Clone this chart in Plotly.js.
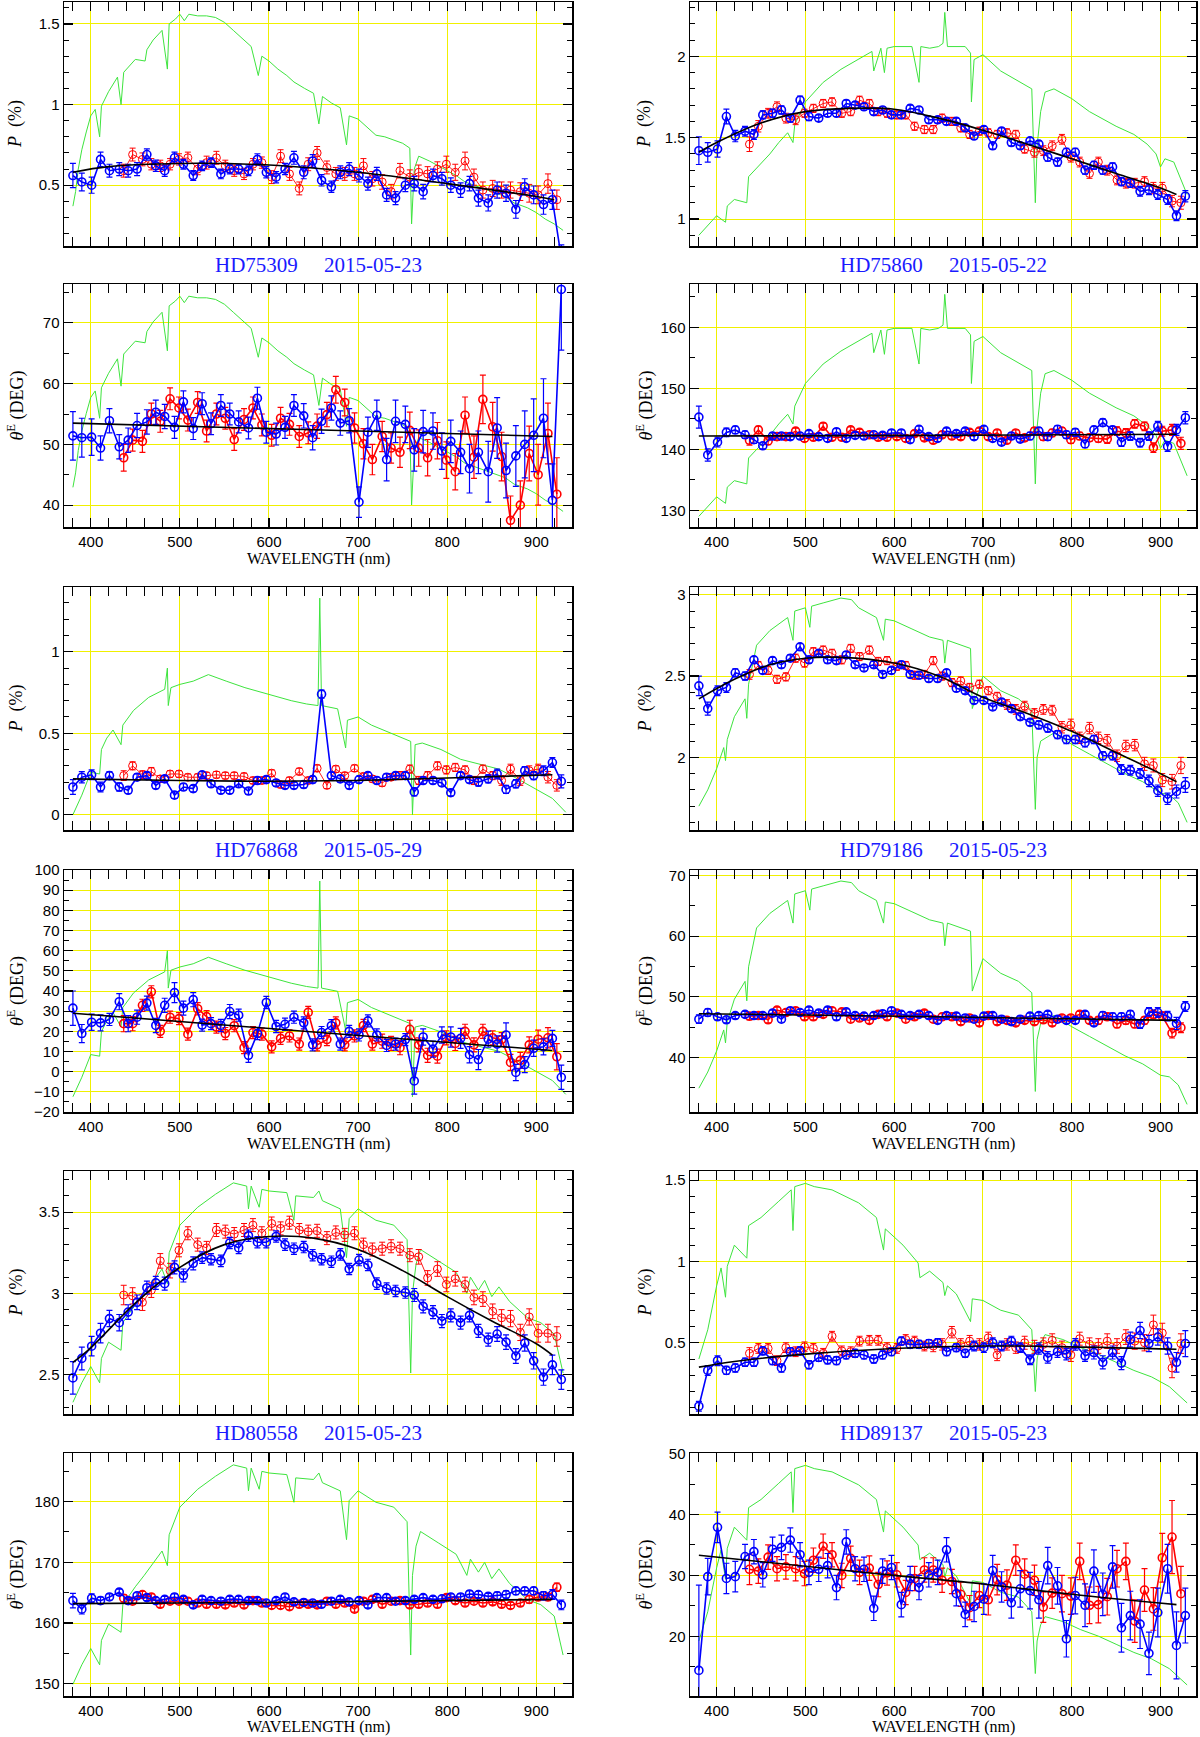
<!DOCTYPE html>
<html>
<head>
<meta charset="utf-8">
<script src="https://cdn.plot.ly/plotly-3.0.1.min.js"></script>
<style>
  html, body { margin: 0; padding: 0; background: #fff; }
  #chart { width: 1200px; height: 1737px; }
</style>
</head>
<body>
<div id="chart"></div>
<script>
// wavelength bins (nm) of the two data sets
const BLUE_WL = [380, 390, 401, 411, 421, 432, 442, 452, 463, 473,
  483, 494, 504, 515, 525, 535, 546, 556, 566, 577,
  587, 597, 608, 618, 628, 639, 649, 659, 670, 680,
  690, 701, 711, 721, 732, 742, 753, 763, 773, 784,
  794, 804, 815, 825, 835, 846, 856, 866, 877, 887,
  897, 908, 918, 928];
const RED_WL = [437, 447, 458, 468, 478, 489, 499, 509, 520, 530,
  541, 551, 561, 572, 582, 592, 603, 613, 623, 634,
  644, 654, 665, 675, 685, 696, 706, 716, 727, 737,
  747, 758, 768, 778, 789, 799, 809, 820, 830, 840,
  851, 861, 871, 882, 892, 902, 913, 923];

// ---------- HD75309 ----------
const HD75309_SPEC_WL = [380, 383, 386, 390, 395, 398, 400, 405, 410, 412, 420, 430, 434, 437, 445, 450, 461, 463, 470, 475,
  480, 486, 488, 495, 500, 505, 510, 520, 530, 540, 550, 560, 570, 580, 588, 592, 600, 610, 620, 628,
  640, 650, 656, 660, 670, 680, 687, 690, 700, 710, 720, 730, 740, 750, 758, 760, 763, 768, 780, 790,
  800, 810, 820, 835, 850, 865, 875, 890, 900, 910, 920, 930];
const HD75309_SPEC = [0.37, 0.46, 0.60, 0.72, 0.83, 0.89, 0.93, 0.97, 0.80, 0.99, 1.08, 1.17, 1.00, 1.20, 1.25, 1.28, 1.27, 1.34, 1.40, 1.43,
  1.46, 1.22, 1.50, 1.53, 1.56, 1.52, 1.56, 1.55, 1.55, 1.54, 1.51, 1.46, 1.41, 1.36, 1.18, 1.30, 1.27, 1.22, 1.18, 1.14,
  1.10, 1.07, 0.88, 1.05, 1.01, 0.98, 0.75, 0.93, 0.91, 0.86, 0.81, 0.80, 0.78, 0.76, 0.73, 0.26, 0.60, 0.68, 0.65, 0.62,
  0.59, 0.56, 0.52, 0.49, 0.46, 0.43, 0.39, 0.36, 0.33, 0.29, 0.26, 0.22];
const HD75309_P_BLUE = [0.56, 0.52, 0.50, 0.66, 0.59, 0.60, 0.59, 0.60, 0.69, 0.62,
  0.59, 0.67, 0.63, 0.56, 0.62, 0.64, 0.57, 0.60, 0.60, 0.59,
  0.66, 0.58, 0.55, 0.60, 0.67, 0.58, 0.65, 0.53, 0.49, 0.58,
  0.60, 0.56, 0.51, 0.57, 0.44, 0.42, 0.50, 0.51, 0.46, 0.56,
  0.54, 0.50, 0.47, 0.51, 0.42, 0.39, 0.47, 0.45, 0.35, 0.49,
  0.44, 0.38, 0.41, 0.05];
const HD75309_P_BLUE_ERR = [0.075, 0.055, 0.05, 0.045, 0.04, 0.04, 0.04, 0.04, 0.035, 0.035,
  0.035, 0.035, 0.03, 0.03, 0.03, 0.03, 0.03, 0.03, 0.03, 0.03,
  0.035, 0.035, 0.035, 0.035, 0.04, 0.04, 0.04, 0.035, 0.035, 0.04,
  0.04, 0.04, 0.04, 0.04, 0.04, 0.04, 0.04, 0.045, 0.045, 0.04,
  0.04, 0.045, 0.045, 0.045, 0.05, 0.05, 0.05, 0.05, 0.055, 0.05,
  0.055, 0.06, 0.06, 0.08];
const HD75309_P_RED = [0.59, 0.69, 0.66, 0.63, 0.62, 0.63, 0.66, 0.67, 0.60, 0.64,
  0.67, 0.62, 0.59, 0.57, 0.63, 0.64, 0.55, 0.68, 0.57, 0.48,
  0.63, 0.70, 0.61, 0.57, 0.57, 0.57, 0.62, 0.54, 0.52, 0.46,
  0.59, 0.55, 0.58, 0.57, 0.60, 0.63, 0.58, 0.65, 0.55, 0.47,
  0.48, 0.47, 0.47, 0.46, 0.45, 0.44, 0.51, 0.41];
const HD75309_P_RED_ERR = [0.04, 0.04, 0.04, 0.035, 0.035, 0.035, 0.035, 0.035, 0.035, 0.04,
  0.04, 0.035, 0.035, 0.035, 0.035, 0.035, 0.04, 0.04, 0.04, 0.04,
  0.04, 0.04, 0.04, 0.04, 0.04, 0.04, 0.045, 0.045, 0.045, 0.045,
  0.045, 0.045, 0.045, 0.045, 0.045, 0.05, 0.05, 0.055, 0.05, 0.05,
  0.05, 0.05, 0.05, 0.055, 0.055, 0.055, 0.06, 0.06];
const HD75309_P_FIT_WL = [380, 420, 500, 600, 700, 800, 900, 920];
const HD75309_P_FIT = [0.58, 0.615, 0.635, 0.625, 0.58, 0.51, 0.43, 0.41];
const HD75309_T_BLUE = [51.4, 51.1, 51.2, 49.4, 53.9, 49.6, 50.7, 53.1, 53.7, 55.3,
  54.6, 52.8, 57.0, 52.6, 56.7, 53.4, 56.4, 55.0, 53.7, 52.7,
  57.6, 52.0, 51.7, 52.8, 56.4, 54.7, 51.1, 53.8, 56.0, 53.5,
  53.9, 40.5, 52.0, 54.8, 47.5, 53.8, 53.3, 49.1, 52.1, 52.2,
  48.9, 50.5, 48.7, 46.0, 48.7, 45.5, 52.7, 45.7, 48.1, 50.0,
  51.5, 54.3, 40.8, 75.5];
const HD75309_T_BLUE_ERR = [4.0, 3.2, 3.0, 2.0, 2.0, 2.0, 2.0, 2.0, 2.0, 2.0,
  2.0, 1.8, 1.8, 1.8, 1.8, 1.8, 1.8, 1.8, 1.8, 1.8,
  1.8, 1.8, 1.8, 1.8, 1.8, 2.0, 2.0, 2.0, 2.0, 2.0,
  2.0, 2.5, 2.5, 2.5, 3.5, 3.5, 3.0, 3.5, 3.5, 3.0,
  3.0, 3.5, 3.5, 4.0, 3.5, 5.0, 5.0, 4.5, 5.0, 5.5,
  6.0, 6.5, 6.0, 10.0];
const HD75309_T_RED = [47.8, 50.7, 50.5, 55.0, 53.8, 57.5, 56.0, 54.0, 56.9, 52.2,
  55.0, 54.3, 50.8, 54.1, 56.0, 53.2, 51.5, 54.3, 53.3, 51.3,
  51.9, 53.0, 54.9, 59.0, 56.9, 52.7, 50.1, 47.5, 51.3, 49.4,
  48.7, 52.3, 49.4, 47.8, 50.6, 47.4, 45.5, 54.8, 47.9, 57.4,
  52.9, 48.0, 37.5, 40.0, 48.5, 45.0, 51.8, 41.8];
const HD75309_T_RED_ERR = [2.2, 1.8, 1.8, 1.8, 1.8, 1.8, 1.8, 1.8, 1.8, 1.8,
  1.8, 1.8, 1.8, 1.8, 1.8, 1.8, 1.8, 1.8, 1.8, 1.8,
  1.8, 2.0, 2.0, 2.2, 2.2, 2.5, 2.5, 2.5, 2.5, 2.5,
  2.5, 3.0, 3.0, 3.0, 3.0, 3.0, 3.0, 3.0, 3.5, 4.0,
  4.0, 4.0, 4.0, 4.0, 4.5, 5.0, 5.0, 6.0];
const HD75309_T_FIT_WL = [380, 650, 918];
const HD75309_T_FIT = [53.5, 52.4, 51.3];

// ---------- HD75860 ----------
const HD75860_SPEC_WL = [380, 390, 400, 410, 412, 420, 434, 436, 450, 460, 470, 480, 486, 488, 500, 510, 520, 540, 560, 575,
  577, 585, 589, 592, 600, 620, 628, 630, 640, 650, 655, 657, 660, 680, 686, 687, 690, 700, 720, 740,
  755, 759, 761, 765, 770, 780, 800, 820, 850, 870, 885, 895, 900, 905, 915, 930];
const HD75860_SPEC = [0.90, 0.96, 1.02, 0.98, 1.08, 1.12, 1.10, 1.26, 1.34, 1.40, 1.47, 1.53, 1.47, 1.58, 1.72, 1.78, 1.84, 1.92, 1.98, 2.03,
  1.91, 2.05, 1.90, 2.05, 2.06, 2.06, 1.84, 2.06, 2.05, 2.06, 2.08, 2.27, 2.06, 2.06, 2.02, 1.72, 1.98, 2.01, 1.91, 1.85,
  1.80, 1.10, 1.45, 1.66, 1.78, 1.80, 1.74, 1.66, 1.57, 1.52, 1.46, 1.40, 1.32, 1.37, 1.35, 1.15];
const HD75860_P_BLUE = [1.42, 1.41, 1.43, 1.63, 1.51, 1.54, 1.52, 1.64, 1.65, 1.67,
  1.62, 1.73, 1.63, 1.62, 1.65, 1.65, 1.71, 1.70, 1.69, 1.66,
  1.67, 1.64, 1.64, 1.68, 1.67, 1.61, 1.61, 1.60, 1.60, 1.56,
  1.51, 1.55, 1.45, 1.54, 1.47, 1.45, 1.48, 1.46, 1.38, 1.35,
  1.41, 1.41, 1.30, 1.33, 1.30, 1.32, 1.23, 1.22, 1.17, 1.18,
  1.15, 1.12, 1.02, 1.14];
const HD75860_P_BLUE_ERR = [0.085, 0.06, 0.05, 0.045, 0.035, 0.03, 0.03, 0.025, 0.025, 0.025,
  0.025, 0.025, 0.025, 0.02, 0.02, 0.02, 0.02, 0.02, 0.02, 0.02,
  0.02, 0.02, 0.02, 0.02, 0.02, 0.02, 0.02, 0.02, 0.02, 0.02,
  0.02, 0.02, 0.02, 0.02, 0.02, 0.02, 0.02, 0.02, 0.025, 0.025,
  0.025, 0.025, 0.025, 0.025, 0.025, 0.025, 0.025, 0.025, 0.03, 0.03,
  0.03, 0.03, 0.03, 0.035];
const HD75860_P_RED = [1.46, 1.57, 1.65, 1.69, 1.62, 1.61, 1.65, 1.68, 1.71, 1.72,
  1.65, 1.66, 1.73, 1.71, 1.66, 1.65, 1.64, 1.64, 1.57, 1.55,
  1.55, 1.62, 1.60, 1.56, 1.52, 1.54, 1.53, 1.52, 1.53, 1.52,
  1.43, 1.41, 1.42, 1.45, 1.49, 1.38, 1.35, 1.28, 1.35, 1.30,
  1.24, 1.22, 1.22, 1.23, 1.19, 1.19, 1.11, 1.10];
const HD75860_P_RED_ERR = [0.045, 0.035, 0.03, 0.03, 0.03, 0.03, 0.025, 0.025, 0.025, 0.025,
  0.025, 0.025, 0.025, 0.025, 0.025, 0.025, 0.025, 0.025, 0.025, 0.025,
  0.025, 0.025, 0.025, 0.025, 0.025, 0.025, 0.025, 0.025, 0.025, 0.025,
  0.025, 0.03, 0.03, 0.03, 0.03, 0.03, 0.03, 0.03, 0.03, 0.03,
  0.03, 0.03, 0.03, 0.03, 0.035, 0.035, 0.035, 0.04];
const HD75860_P_FIT_WL = [380, 400, 450, 500, 550, 600, 650, 700, 750, 800, 850, 900, 918];
const HD75860_P_FIT = [1.41, 1.47, 1.59, 1.66, 1.68, 1.675, 1.62, 1.545, 1.46, 1.37, 1.28, 1.19, 1.15];
const HD75860_T_BLUE = [145.3, 139.1, 141.2, 142.8, 143.2, 142.4, 141.6, 140.6, 142.2, 142.2,
  142.1, 142.2, 142.6, 142.1, 141.8, 142.9, 141.8, 142.3, 142.2, 142.4,
  142.3, 142.7, 142.7, 141.6, 143.3, 142.1, 141.8, 143.0, 142.6, 143.0,
  142.1, 143.3, 141.8, 141.2, 142.2, 141.7, 142.2, 143.0, 142.1, 143.3,
  142.4, 142.8, 140.9, 143.2, 144.4, 143.2, 141.2, 142.2, 141.1, 142.2,
  143.8, 140.5, 143.2, 145.2];
const HD75860_T_BLUE_ERR = [1.8, 1.0, 0.8, 0.7, 0.6, 0.6, 0.6, 0.5, 0.5, 0.5,
  0.5, 0.5, 0.5, 0.5, 0.5, 0.5, 0.5, 0.5, 0.5, 0.5,
  0.5, 0.5, 0.5, 0.5, 0.5, 0.5, 0.5, 0.5, 0.5, 0.5,
  0.5, 0.5, 0.5, 0.5, 0.5, 0.5, 0.6, 0.6, 0.6, 0.6,
  0.6, 0.6, 0.6, 0.6, 0.6, 0.6, 0.7, 0.7, 0.7, 0.7,
  0.8, 0.8, 0.9, 1.0];
const HD75860_T_RED = [141.5, 143.2, 141.4, 142.1, 142.1, 143.0, 141.8, 142.0, 143.8, 142.0,
  142.0, 143.2, 142.8, 142.4, 142.0, 142.0, 142.1, 141.8, 142.6, 141.9,
  141.5, 142.4, 142.2, 142.1, 142.8, 143.0, 142.1, 142.7, 141.5, 142.7,
  141.9, 143.0, 142.1, 142.7, 143.0, 141.6, 142.2, 141.9, 141.8, 141.7,
  143.0, 142.7, 144.2, 143.8, 140.3, 143.0, 143.2, 141.0];
const HD75860_T_RED_ERR = [0.8, 0.6, 0.6, 0.6, 0.5, 0.5, 0.5, 0.5, 0.5, 0.5,
  0.5, 0.5, 0.5, 0.5, 0.5, 0.5, 0.5, 0.5, 0.5, 0.5,
  0.5, 0.5, 0.5, 0.5, 0.5, 0.5, 0.5, 0.5, 0.5, 0.5,
  0.5, 0.6, 0.6, 0.6, 0.6, 0.6, 0.6, 0.6, 0.6, 0.7,
  0.7, 0.7, 0.7, 0.7, 0.8, 0.8, 0.9, 1.0];
const HD75860_T_FIT_WL = [380, 650, 918];
const HD75860_T_FIT = [142.2, 142.3, 142.5];

// ---------- HD76868 ----------
const HD76868_SPEC_WL = [380, 390, 400, 410, 412, 418, 425, 434, 436, 448, 465, 483, 486, 487, 490, 500, 515, 532, 552, 573,
  599, 625, 642, 655, 657, 659, 677, 686, 688, 700, 715, 728, 750, 759, 761, 764, 772, 793, 815, 836,
  858, 879, 901, 918, 933];
const HD76868_SPEC = [0.0, 0.12, 0.26, 0.25, 0.40, 0.47, 0.52, 0.43, 0.55, 0.64, 0.72, 0.77, 0.90, 0.67, 0.78, 0.80, 0.82, 0.86, 0.82, 0.78,
  0.74, 0.70, 0.68, 0.67, 1.33, 0.67, 0.65, 0.41, 0.58, 0.60, 0.55, 0.52, 0.47, 0.45, 0.0, 0.43, 0.44, 0.40, 0.34, 0.31,
  0.28, 0.22, 0.15, 0.10, 0.015];
const HD76868_P_BLUE = [0.17, 0.23, 0.245, 0.17, 0.24, 0.17, 0.15, 0.23, 0.24, 0.18,
  0.22, 0.12, 0.17, 0.16, 0.245, 0.19, 0.15, 0.15, 0.19, 0.145,
  0.21, 0.215, 0.195, 0.18, 0.18, 0.185, 0.215, 0.74, 0.24, 0.22,
  0.18, 0.215, 0.24, 0.21, 0.23, 0.24, 0.24, 0.14, 0.21, 0.21,
  0.195, 0.135, 0.24, 0.215, 0.20, 0.22, 0.25, 0.155, 0.19, 0.27,
  0.24, 0.27, 0.32, 0.205];
const HD76868_P_BLUE_ERR = [0.045, 0.035, 0.03, 0.03, 0.025, 0.025, 0.02, 0.02, 0.02, 0.02,
  0.02, 0.02, 0.02, 0.02, 0.02, 0.02, 0.02, 0.02, 0.02, 0.02,
  0.02, 0.02, 0.02, 0.02, 0.02, 0.02, 0.02, 0.025, 0.02, 0.02,
  0.02, 0.02, 0.02, 0.02, 0.02, 0.02, 0.02, 0.025, 0.02, 0.02,
  0.02, 0.02, 0.02, 0.02, 0.025, 0.025, 0.03, 0.025, 0.025, 0.025,
  0.025, 0.03, 0.03, 0.04];
const HD76868_P_RED = [0.24, 0.30, 0.245, 0.265, 0.22, 0.25, 0.25, 0.23, 0.23, 0.24,
  0.245, 0.24, 0.24, 0.235, 0.21, 0.21, 0.255, 0.185, 0.21, 0.265,
  0.21, 0.285, 0.18, 0.28, 0.24, 0.285, 0.235, 0.22, 0.195, 0.23,
  0.24, 0.28, 0.21, 0.24, 0.30, 0.275, 0.29, 0.275, 0.21, 0.28,
  0.24, 0.21, 0.28, 0.21, 0.27, 0.28, 0.23, 0.18];
const HD76868_P_RED_ERR = [0.03, 0.025, 0.025, 0.025, 0.02, 0.02, 0.02, 0.02, 0.02, 0.02,
  0.02, 0.02, 0.02, 0.02, 0.02, 0.02, 0.02, 0.02, 0.02, 0.02,
  0.02, 0.02, 0.02, 0.02, 0.02, 0.02, 0.02, 0.02, 0.02, 0.02,
  0.025, 0.025, 0.025, 0.025, 0.025, 0.025, 0.025, 0.025, 0.025, 0.025,
  0.025, 0.03, 0.03, 0.03, 0.03, 0.03, 0.035, 0.035];
const HD76868_P_FIT_WL = [380, 500, 600, 700, 800, 918];
const HD76868_P_FIT = [0.22, 0.21, 0.205, 0.21, 0.225, 0.245];
const HD76868_T_BLUE = [31.5, 18.9, 24.5, 24.2, 25.9, 34.7, 23.8, 27.0, 34.0, 22.9,
  32.9, 39.2, 31.5, 35.7, 23.1, 23.8, 22.9, 29.8, 28.0, 8.1,
  18.9, 34.3, 22.4, 23.5, 27.0, 24.2, 13.3, 19.4, 22.8, 13.7,
  20.0, 18.2, 25.2, 18.2, 13.0, 13.7, 15.9, -4.6, 17.2, 11.2,
  18.2, 17.2, 16.5, 8.4, 6.0, 16.1, 13.7, 18.2, -0.4, 3.5,
  11.6, 12.3, 16.5, -2.8];
const HD76868_T_BLUE_ERR = [8.5, 4.5, 4.0, 4.0, 3.0, 4.0, 4.0, 3.5, 3.5, 3.5,
  3.5, 5.0, 3.5, 3.5, 3.0, 3.0, 3.0, 3.5, 3.0, 3.5,
  3.0, 3.0, 3.0, 3.0, 3.0, 3.0, 3.0, 3.0, 3.0, 3.0,
  3.0, 3.0, 3.0, 3.0, 3.0, 3.0, 3.0, 6.5, 4.0, 4.0,
  4.0, 5.0, 5.0, 4.0, 5.0, 4.0, 4.0, 6.0, 4.0, 4.0,
  4.0, 4.0, 4.0, 6.0];
const HD76868_T_RED = [23.8, 23.8, 32.9, 39.6, 20.0, 27.0, 26.3, 18.6, 31.2, 27.3,
  22.1, 18.9, 22.8, 11.9, 19.4, 18.6, 12.3, 16.5, 17.7, 13.7,
  29.4, 13.3, 15.9, 24.2, 13.3, 17.7, 22.9, 13.7, 15.1, 14.0,
  11.9, 21.0, 13.3, 8.1, 7.7, 16.8, 14.0, 20.0, 13.3, 20.0,
  16.8, 15.9, 4.6, 5.6, 13.3, 16.1, 16.8, 7.4];
const HD76868_T_RED_ERR = [4.0, 3.5, 3.0, 3.0, 3.0, 3.0, 3.0, 3.0, 3.0, 3.0,
  3.0, 3.0, 3.0, 3.0, 3.0, 3.0, 3.0, 3.0, 3.0, 3.0,
  3.0, 3.0, 3.0, 3.0, 3.0, 3.0, 3.0, 3.0, 3.5, 3.5,
  3.5, 4.5, 3.5, 3.5, 3.5, 3.5, 3.5, 3.5, 3.5, 3.5,
  3.5, 3.5, 4.0, 4.0, 4.0, 4.5, 5.0, 6.5];
const HD76868_T_FIT_WL = [380, 650, 918];
const HD76868_T_FIT = [29.0, 19.7, 10.5];

// ---------- HD79186 ----------
const HD79186_SPEC_WL = [380, 390, 400, 408, 410, 412, 420, 432, 434, 436, 445, 460, 480, 486, 488, 500, 505, 507, 520, 540,
  552, 560, 580, 588, 590, 600, 620, 640, 655, 657, 660, 680, 686, 688, 700, 720, 740, 755, 759, 761,
  765, 780, 800, 820, 840, 860, 880, 900, 910, 920, 930];
const HD79186_SPEC = [1.70, 1.80, 1.93, 2.06, 1.98, 2.11, 2.25, 2.36, 2.24, 2.45, 2.69, 2.78, 2.86, 2.72, 2.90, 2.92, 2.80, 2.93, 2.95, 2.98,
  2.97, 2.92, 2.86, 2.72, 2.85, 2.84, 2.79, 2.74, 2.72, 2.58, 2.72, 2.68, 2.67, 2.30, 2.50, 2.41, 2.36, 2.29, 1.68, 2.00,
  2.10, 2.15, 2.08, 2.02, 1.96, 1.90, 1.85, 1.78, 1.77, 1.72, 1.60];
const HD79186_P_BLUE = [2.44, 2.30, 2.41, 2.43, 2.52, 2.50, 2.60, 2.535, 2.595, 2.57,
  2.61, 2.68, 2.60, 2.64, 2.60, 2.595, 2.63, 2.57, 2.55, 2.57,
  2.51, 2.535, 2.57, 2.51, 2.505, 2.485, 2.485, 2.52, 2.425, 2.41,
  2.35, 2.35, 2.31, 2.34, 2.30, 2.25, 2.215, 2.20, 2.18, 2.14,
  2.11, 2.11, 2.09, 2.11, 2.01, 2.01, 1.925, 1.92, 1.90, 1.855,
  1.795, 1.745, 1.79, 1.83];
const HD79186_P_BLUE_ERR = [0.06, 0.04, 0.03, 0.03, 0.025, 0.025, 0.02, 0.02, 0.02, 0.02,
  0.02, 0.02, 0.02, 0.02, 0.02, 0.02, 0.02, 0.02, 0.02, 0.02,
  0.02, 0.02, 0.02, 0.02, 0.02, 0.02, 0.02, 0.02, 0.02, 0.02,
  0.02, 0.02, 0.02, 0.02, 0.02, 0.02, 0.02, 0.025, 0.025, 0.025,
  0.025, 0.025, 0.025, 0.025, 0.025, 0.025, 0.03, 0.03, 0.03, 0.035,
  0.035, 0.035, 0.04, 0.045];
const HD79186_P_RED = [2.51, 2.565, 2.535, 2.48, 2.495, 2.61, 2.58, 2.65, 2.66, 2.64,
  2.60, 2.67, 2.62, 2.66, 2.59, 2.595, 2.56, 2.565, 2.505, 2.51,
  2.595, 2.50, 2.46, 2.47, 2.43, 2.45, 2.41, 2.375, 2.325, 2.295,
  2.315, 2.27, 2.295, 2.29, 2.185, 2.20, 2.12, 2.18, 2.12, 2.105,
  2.01, 2.07, 2.075, 1.96, 1.95, 1.86, 1.85, 1.95];
const HD79186_P_RED_ERR = [0.03, 0.025, 0.025, 0.025, 0.025, 0.025, 0.025, 0.025, 0.025, 0.025,
  0.025, 0.025, 0.025, 0.025, 0.025, 0.025, 0.025, 0.025, 0.025, 0.025,
  0.025, 0.025, 0.025, 0.025, 0.025, 0.025, 0.025, 0.025, 0.03, 0.03,
  0.03, 0.03, 0.03, 0.03, 0.035, 0.035, 0.035, 0.035, 0.035, 0.035,
  0.035, 0.035, 0.035, 0.04, 0.04, 0.04, 0.045, 0.05];
const HD79186_P_FIT_WL = [380, 420, 460, 500, 540, 600, 650, 700, 750, 800, 850, 900, 918];
const HD79186_P_FIT = [2.36, 2.48, 2.57, 2.61, 2.615, 2.58, 2.50, 2.37, 2.27, 2.16, 2.03, 1.90, 1.85];
const HD79186_T_BLUE = [46.3, 47.4, 46.7, 46.2, 46.9, 47.1, 46.9, 46.9, 47.3, 46.3,
  47.7, 47.4, 47.8, 47.3, 47.8, 46.7, 47.5, 46.9, 46.8, 46.9,
  47.2, 47.7, 47.1, 46.9, 47.1, 46.9, 46.1, 46.9, 46.8, 46.5,
  46.3, 46.8, 46.9, 46.3, 45.9, 46.3, 46.8, 46.9, 47.1, 46.3,
  46.1, 46.1, 47.1, 45.7, 46.9, 46.7, 46.7, 47.1, 45.5, 47.5,
  47.4, 46.8, 45.6, 48.4];
const HD79186_T_BLUE_ERR = [0.7, 0.6, 0.5, 0.5, 0.5, 0.5, 0.5, 0.5, 0.5, 0.5,
  0.5, 0.5, 0.5, 0.5, 0.5, 0.5, 0.5, 0.5, 0.5, 0.5,
  0.5, 0.5, 0.5, 0.5, 0.5, 0.5, 0.5, 0.5, 0.5, 0.5,
  0.5, 0.5, 0.5, 0.5, 0.5, 0.5, 0.5, 0.5, 0.5, 0.5,
  0.5, 0.5, 0.5, 0.5, 0.6, 0.6, 0.6, 0.6, 0.7, 0.7,
  0.8, 0.8, 1.0, 0.8];
const HD79186_T_RED = [46.8, 46.9, 46.2, 47.8, 47.4, 47.7, 46.7, 46.7, 47.1, 47.7,
  47.5, 46.3, 46.5, 46.1, 47.1, 46.7, 47.3, 46.3, 46.7, 47.3,
  46.3, 46.7, 46.7, 45.9, 46.5, 45.7, 46.9, 45.9, 46.1, 45.7,
  46.1, 45.9, 46.2, 45.7, 46.5, 46.5, 47.1, 46.1, 46.1, 46.7,
  45.5, 46.1, 45.5, 46.1, 47.1, 46.8, 44.0, 44.9];
const HD79186_T_RED_ERR = [0.6, 0.5, 0.5, 0.5, 0.5, 0.5, 0.5, 0.5, 0.5, 0.5,
  0.5, 0.5, 0.5, 0.5, 0.5, 0.5, 0.5, 0.5, 0.5, 0.5,
  0.5, 0.5, 0.5, 0.5, 0.5, 0.5, 0.5, 0.5, 0.5, 0.5,
  0.5, 0.5, 0.5, 0.5, 0.5, 0.5, 0.5, 0.5, 0.6, 0.6,
  0.6, 0.6, 0.6, 0.6, 0.7, 0.7, 0.8, 0.8];
const HD79186_T_FIT_WL = [380, 650, 918];
const HD79186_T_FIT = [47.2, 46.7, 46.1];

// ---------- HD80558 ----------
const HD80558_SPEC_WL = [380, 390, 400, 410, 412, 420, 434, 436, 450, 460, 480, 486, 488, 500, 520, 540, 560, 575, 577, 580,
  589, 592, 600, 620, 628, 630, 650, 656, 660, 680, 687, 690, 700, 720, 740, 755, 759, 761, 765, 770,
  790, 810, 822, 826, 835, 842, 850, 858, 870, 880, 890, 905, 920, 930];
const HD80558_SPEC = [2.33, 2.45, 2.55, 2.45, 2.60, 2.70, 2.65, 2.82, 2.93, 3.00, 3.15, 3.06, 3.25, 3.42, 3.53, 3.61, 3.68, 3.66, 3.52, 3.66,
  3.53, 3.64, 3.63, 3.62, 3.45, 3.60, 3.59, 3.63, 3.57, 3.52, 3.22, 3.46, 3.52, 3.45, 3.42, 3.33, 2.51, 3.00, 3.18, 3.27,
  3.20, 3.13, 3.00, 3.10, 3.02, 3.08, 2.98, 3.04, 2.95, 2.90, 2.85, 2.82, 2.75, 2.51];
const HD80558_P_BLUE = [2.48, 2.60, 2.675, 2.755, 2.845, 2.82, 2.885, 2.945, 3.035, 3.065,
  3.06, 3.16, 3.11, 3.185, 3.22, 3.21, 3.20, 3.31, 3.28, 3.355,
  3.315, 3.315, 3.35, 3.30, 3.275, 3.285, 3.235, 3.21, 3.195, 3.24,
  3.15, 3.205, 3.175, 3.06, 3.03, 3.015, 3.005, 2.99, 2.92, 2.885,
  2.83, 2.865, 2.82, 2.865, 2.77, 2.715, 2.75, 2.70, 2.615, 2.695,
  2.585, 2.485, 2.56, 2.47];
const HD80558_P_BLUE_ERR = [0.1, 0.07, 0.06, 0.06, 0.05, 0.05, 0.045, 0.045, 0.04, 0.04,
  0.04, 0.04, 0.04, 0.04, 0.035, 0.035, 0.035, 0.035, 0.035, 0.035,
  0.035, 0.035, 0.035, 0.035, 0.035, 0.035, 0.035, 0.035, 0.035, 0.035,
  0.035, 0.035, 0.035, 0.035, 0.035, 0.035, 0.035, 0.04, 0.04, 0.04,
  0.04, 0.04, 0.04, 0.04, 0.04, 0.04, 0.045, 0.045, 0.045, 0.05,
  0.05, 0.05, 0.06, 0.06];
const HD80558_P_RED = [2.99, 2.985, 2.945, 3.02, 3.20, 3.14, 3.265, 3.37, 3.30, 3.28,
  3.39, 3.38, 3.365, 3.39, 3.42, 3.37, 3.43, 3.40, 3.435, 3.39,
  3.38, 3.385, 3.34, 3.375, 3.36, 3.37, 3.30, 3.27, 3.275, 3.29,
  3.275, 3.235, 3.225, 3.095, 3.15, 3.055, 3.09, 3.055, 2.975, 2.965,
  2.89, 2.85, 2.845, 2.76, 2.855, 2.755, 2.755, 2.735];
const HD80558_P_RED_ERR = [0.06, 0.05, 0.05, 0.045, 0.045, 0.045, 0.04, 0.04, 0.04, 0.04,
  0.04, 0.04, 0.04, 0.04, 0.04, 0.04, 0.04, 0.04, 0.04, 0.04,
  0.04, 0.04, 0.04, 0.04, 0.04, 0.04, 0.04, 0.04, 0.04, 0.04,
  0.04, 0.04, 0.045, 0.045, 0.045, 0.045, 0.045, 0.045, 0.045, 0.045,
  0.045, 0.05, 0.05, 0.05, 0.05, 0.055, 0.055, 0.06];
const HD80558_P_FIT_WL = [380, 400, 450, 500, 550, 600, 650, 700, 750, 800, 850, 900, 918];
const HD80558_P_FIT = [2.575, 2.665, 2.94, 3.16, 3.30, 3.35, 3.34, 3.27, 3.14, 2.98, 2.83, 2.69, 2.62];
const HD80558_T_BLUE = [163.7, 162.3, 164.1, 163.7, 164.3, 165.1, 163.7, 164.5, 164.2, 163.7,
  163.9, 164.3, 163.9, 163.0, 163.9, 163.7, 163.6, 163.9, 163.9, 163.7,
  163.7, 163.3, 163.7, 164.3, 163.5, 163.4, 163.3, 163.1, 163.6, 163.9,
  163.5, 163.7, 163.0, 164.2, 164.2, 163.6, 163.7, 163.9, 164.2, 163.9,
  164.0, 164.3, 164.3, 164.8, 164.7, 164.4, 164.5, 164.7, 165.3, 165.3,
  165.3, 164.5, 164.7, 163.0];
const HD80558_T_BLUE_ERR = [1.2, 0.8, 0.7, 0.6, 0.5, 0.5, 0.5, 0.5, 0.5, 0.5,
  0.5, 0.5, 0.5, 0.5, 0.5, 0.5, 0.5, 0.5, 0.5, 0.5,
  0.5, 0.5, 0.5, 0.5, 0.5, 0.5, 0.5, 0.5, 0.5, 0.5,
  0.5, 0.5, 0.5, 0.5, 0.5, 0.5, 0.5, 0.5, 0.5, 0.5,
  0.5, 0.5, 0.5, 0.5, 0.5, 0.5, 0.6, 0.6, 0.6, 0.6,
  0.6, 0.7, 0.8, 0.8];
const HD80558_T_RED = [164.1, 163.6, 164.7, 164.3, 163.1, 163.6, 163.6, 163.6, 163.3, 163.1,
  163.1, 163.0, 163.3, 163.0, 163.7, 163.3, 162.9, 162.9, 162.7, 163.1,
  163.1, 163.0, 163.6, 163.1, 163.3, 162.3, 163.6, 163.9, 163.1, 163.6,
  163.7, 163.0, 163.1, 163.3, 163.1, 164.2, 163.7, 163.3, 163.6, 163.3,
  163.5, 163.1, 162.9, 163.3, 163.9, 164.3, 164.3, 165.9];
const HD80558_T_RED_ERR = [0.6, 0.5, 0.5, 0.5, 0.5, 0.5, 0.5, 0.5, 0.5, 0.5,
  0.5, 0.5, 0.5, 0.5, 0.5, 0.5, 0.5, 0.5, 0.5, 0.5,
  0.5, 0.5, 0.5, 0.5, 0.5, 0.5, 0.5, 0.5, 0.5, 0.5,
  0.5, 0.5, 0.5, 0.5, 0.5, 0.5, 0.5, 0.5, 0.5, 0.5,
  0.5, 0.5, 0.5, 0.5, 0.6, 0.6, 0.6, 0.7];
const HD80558_T_FIT_WL = [380, 600, 918];
const HD80558_T_FIT = [163.2, 163.4, 163.9];

// ---------- HD89137 ----------
const HD89137_SPEC_WL = [380, 390, 400, 405, 410, 412, 420, 434, 436, 450, 470, 484, 486, 488, 500, 510, 530, 560, 580, 588,
  590, 610, 627, 629, 640, 655, 657, 660, 670, 686, 688, 700, 720, 740, 755, 759, 761, 765, 770, 790,
  810, 830, 850, 870, 890, 900, 910, 930];
const HD89137_SPEC = [0.40, 0.58, 0.85, 0.96, 0.78, 0.97, 1.10, 1.02, 1.22, 1.27, 1.37, 1.44, 1.19, 1.46, 1.48, 1.46, 1.44, 1.36, 1.27, 1.07,
  1.20, 1.10, 0.99, 0.90, 0.94, 0.87, 0.79, 0.85, 0.80, 0.63, 0.77, 0.76, 0.70, 0.67, 0.58, 0.20, 0.40, 0.50, 0.55, 0.52,
  0.47, 0.43, 0.38, 0.33, 0.29, 0.26, 0.23, 0.13];
const HD89137_P_BLUE = [0.11, 0.33, 0.39, 0.33, 0.345, 0.38, 0.38, 0.45, 0.39, 0.345,
  0.445, 0.45, 0.365, 0.41, 0.395, 0.39, 0.425, 0.435, 0.425, 0.40,
  0.425, 0.445, 0.51, 0.49, 0.49, 0.495, 0.50, 0.445, 0.47, 0.435,
  0.48, 0.47, 0.50, 0.48, 0.51, 0.47, 0.395, 0.465, 0.41, 0.445,
  0.43, 0.49, 0.42, 0.44, 0.38, 0.44, 0.375, 0.52, 0.575, 0.495,
  0.535, 0.48, 0.38, 0.495];
const HD89137_P_BLUE_ERR = [0.03, 0.03, 0.03, 0.025, 0.025, 0.025, 0.025, 0.025, 0.025, 0.025,
  0.025, 0.025, 0.025, 0.025, 0.025, 0.025, 0.025, 0.025, 0.025, 0.025,
  0.025, 0.025, 0.025, 0.025, 0.025, 0.025, 0.025, 0.025, 0.025, 0.025,
  0.03, 0.03, 0.03, 0.03, 0.03, 0.03, 0.03, 0.035, 0.035, 0.035,
  0.035, 0.035, 0.035, 0.04, 0.04, 0.04, 0.04, 0.045, 0.05, 0.05,
  0.05, 0.05, 0.06, 0.08];
const HD89137_P_RED = [0.435, 0.465, 0.465, 0.39, 0.47, 0.445, 0.475, 0.465, 0.435, 0.54,
  0.45, 0.445, 0.51, 0.515, 0.515, 0.47, 0.465, 0.52, 0.51, 0.48,
  0.48, 0.49, 0.565, 0.49, 0.51, 0.49, 0.53, 0.425, 0.49, 0.47,
  0.50, 0.475, 0.49, 0.515, 0.47, 0.425, 0.525, 0.49, 0.48, 0.51,
  0.48, 0.535, 0.51, 0.50, 0.61, 0.56, 0.345, 0.495];
const HD89137_P_RED_ERR = [0.035, 0.03, 0.03, 0.03, 0.03, 0.03, 0.03, 0.03, 0.03, 0.03,
  0.03, 0.03, 0.03, 0.03, 0.03, 0.03, 0.03, 0.03, 0.03, 0.03,
  0.035, 0.035, 0.035, 0.035, 0.035, 0.035, 0.035, 0.035, 0.035, 0.035,
  0.04, 0.04, 0.04, 0.04, 0.04, 0.04, 0.04, 0.04, 0.045, 0.045,
  0.045, 0.045, 0.05, 0.05, 0.06, 0.06, 0.06, 0.06];
const HD89137_P_FIT_WL = [380, 420, 500, 600, 700, 800, 918];
const HD89137_P_FIT = [0.35, 0.385, 0.43, 0.465, 0.48, 0.475, 0.46];
const HD89137_T_BLUE = [14.4, 29.8, 37.9, 29.5, 29.8, 33.1, 33.9, 30.1, 34.3, 34.6,
  35.8, 33.4, 30.5, 31.0, 31.6, 28.0, 35.5, 31.1, 31.0, 24.6,
  30.7, 31.3, 25.2, 29.5, 28.0, 30.1, 30.5, 34.2, 27.0, 23.6,
  24.9, 26.1, 30.8, 28.1, 25.5, 27.8, 27.5, 26.0, 31.6, 28.3,
  19.6, 26.7, 25.1, 30.7, 26.9, 31.4, 21.4, 23.4, 22.0, 17.2,
  23.9, 31.1, 18.5, 23.4];
const HD89137_T_BLUE_ERR = [14.0, 3.0, 2.5, 2.5, 2.5, 2.0, 2.0, 2.0, 2.0, 2.0,
  2.0, 2.0, 2.0, 2.0, 2.0, 2.0, 2.0, 2.0, 2.0, 2.0,
  2.0, 2.0, 2.0, 2.0, 2.0, 2.0, 2.0, 2.0, 2.0, 2.0,
  2.5, 2.5, 2.5, 2.5, 2.5, 3.0, 3.0, 3.0, 3.0, 3.0,
  3.0, 3.0, 3.5, 3.5, 3.5, 3.5, 4.0, 4.0, 4.0, 3.5,
  4.0, 4.0, 5.5, 4.5];
const HD89137_T_RED = [31.0, 30.7, 33.0, 31.1, 31.4, 31.1, 30.3, 32.5, 34.8, 33.4,
  30.0, 32.8, 30.5, 31.2, 28.5, 30.4, 30.1, 27.2, 29.5, 30.9,
  30.9, 29.2, 29.0, 26.9, 24.7, 26.7, 26.0, 29.3, 28.4, 32.5,
  30.2, 29.2, 24.8, 27.1, 27.0, 26.6, 32.3, 25.1, 25.2, 26.5,
  31.1, 32.3, 22.5, 27.6, 24.5, 32.9, 36.3, 27.0];
const HD89137_T_RED_ERR = [2.5, 2.0, 2.0, 2.0, 2.0, 2.0, 2.0, 2.0, 2.0, 2.0,
  2.0, 2.0, 2.0, 2.0, 2.0, 2.0, 2.0, 2.0, 2.0, 2.0,
  2.0, 2.0, 2.0, 2.0, 2.0, 2.0, 2.5, 2.5, 2.5, 2.5,
  2.5, 2.5, 2.5, 2.5, 3.0, 3.0, 3.0, 3.0, 3.0, 3.0,
  3.0, 3.0, 3.5, 3.5, 3.5, 4.0, 6.0, 4.5];
const HD89137_T_FIT_WL = [380, 500, 600, 700, 800, 918];
const HD89137_T_FIT = [33.3, 31.5, 30.0, 28.6, 26.9, 25.2];

// ---------- page geometry (px) ----------
const W = 1200, H = 1737;
const COLS = [{ left: 64, right: 572, ylabX: 16 }, { left: 690, right: 1196, ylabX: 645 }];
const ROWS = [[2, 246], [284, 527], [587, 830], [870, 1112], [1171, 1414], [1453, 1696]];
const TITLE_Y = [265, 850, 1433];
// x-axis label: [y px, anchor] – the last one sits on the page bottom
const XLAB = [[559, 'middle'], [1144, 'middle'], [1736.5, 'bottom']];

const STARS = [
  { name: 'HD75309', date: '2015-05-23', col: 0, block: 0, wl: HD75309_SPEC_WL, spec: HD75309_SPEC,
    P: { range: [0.123, 1.636], dtick: 0.5, minor: 0.1, blue: HD75309_P_BLUE, blueErr: HD75309_P_BLUE_ERR, red: HD75309_P_RED, redErr: HD75309_P_RED_ERR, fitWl: HD75309_P_FIT_WL, fit: HD75309_P_FIT },
    T: { range: [36.4, 76.4], dtick: 10, minor: 5, blue: HD75309_T_BLUE, blueErr: HD75309_T_BLUE_ERR, red: HD75309_T_RED, redErr: HD75309_T_RED_ERR, fitWl: HD75309_T_FIT_WL, fit: HD75309_T_FIT } },
  { name: 'HD75860', date: '2015-05-22', col: 1, block: 0, wl: HD75860_SPEC_WL, spec: HD75860_SPEC,
    P: { range: [0.834, 2.334], dtick: 0.5, minor: 0.1, blue: HD75860_P_BLUE, blueErr: HD75860_P_BLUE_ERR, red: HD75860_P_RED, redErr: HD75860_P_RED_ERR, fitWl: HD75860_P_FIT_WL, fit: HD75860_P_FIT },
    T: { range: [127.3, 167.1], dtick: 10, minor: 5, blue: HD75860_T_BLUE, blueErr: HD75860_T_BLUE_ERR, red: HD75860_T_RED, redErr: HD75860_T_RED_ERR, fitWl: HD75860_T_FIT_WL, fit: HD75860_T_FIT } },
  { name: 'HD76868', date: '2015-05-29', col: 0, block: 1, wl: HD76868_SPEC_WL, spec: HD76868_SPEC,
    P: { range: [-0.094, 1.398], dtick: 0.5, minor: 0.1, blue: HD76868_P_BLUE, blueErr: HD76868_P_BLUE_ERR, red: HD76868_P_RED, redErr: HD76868_P_RED_ERR, fitWl: HD76868_P_FIT_WL, fit: HD76868_P_FIT },
    T: { range: [-20, 100], dtick: 10, minor: 5, blue: HD76868_T_BLUE, blueErr: HD76868_T_BLUE_ERR, red: HD76868_T_RED, redErr: HD76868_T_RED_ERR, fitWl: HD76868_T_FIT_WL, fit: HD76868_T_FIT } },
  { name: 'HD79186', date: '2015-05-23', col: 1, block: 1, wl: HD79186_SPEC_WL, spec: HD79186_SPEC,
    P: { range: [1.553, 3.048], dtick: 0.5, minor: 0.1, blue: HD79186_P_BLUE, blueErr: HD79186_P_BLUE_ERR, red: HD79186_P_RED, redErr: HD79186_P_RED_ERR, fitWl: HD79186_P_FIT_WL, fit: HD79186_P_FIT },
    T: { range: [31.0, 70.9], dtick: 10, minor: 5, blue: HD79186_T_BLUE, blueErr: HD79186_T_BLUE_ERR, red: HD79186_T_RED, redErr: HD79186_T_RED_ERR, fitWl: HD79186_T_FIT_WL, fit: HD79186_T_FIT } },
  { name: 'HD80558', date: '2015-05-23', col: 0, block: 2, wl: HD80558_SPEC_WL, spec: HD80558_SPEC,
    P: { range: [2.258, 3.753], dtick: 0.5, minor: 0.1, blue: HD80558_P_BLUE, blueErr: HD80558_P_BLUE_ERR, red: HD80558_P_RED, redErr: HD80558_P_RED_ERR, fitWl: HD80558_P_FIT_WL, fit: HD80558_P_FIT },
    T: { range: [148.0, 188.0], dtick: 10, minor: 5, blue: HD80558_T_BLUE, blueErr: HD80558_T_BLUE_ERR, red: HD80558_T_RED, redErr: HD80558_T_RED_ERR, fitWl: HD80558_T_FIT_WL, fit: HD80558_T_FIT } },
  { name: 'HD89137', date: '2015-05-23', col: 1, block: 2, wl: HD89137_SPEC_WL, spec: HD89137_SPEC,
    P: { range: [0.062, 1.556], dtick: 0.5, minor: 0.1, blue: HD89137_P_BLUE, blueErr: HD89137_P_BLUE_ERR, red: HD89137_P_RED, redErr: HD89137_P_RED_ERR, fitWl: HD89137_P_FIT_WL, fit: HD89137_P_FIT },
    T: { range: [10.2, 50.1], dtick: 10, minor: 5, blue: HD89137_T_BLUE, blueErr: HD89137_T_BLUE_ERR, red: HD89137_T_RED, redErr: HD89137_T_RED_ERR, fitWl: HD89137_T_FIT_WL, fit: HD89137_T_FIT } },
];

const BLUE = '#0000ff', RED = '#ff0000', GREEN = '#3ee43e', GRID = '#f0f000';
const TICKFONT = { family: 'Liberation Sans, Arial, sans-serif', size: 15, color: '#000' };
const SERIF = 'Liberation Serif, Times New Roman, serif';

const axName = (k, n) => (n === 1 ? k + 'axis' : k + 'axis' + n);
const axRef = (k, n) => (n === 1 ? k : k + n);
const px2x = p => p / W;
const px2y = p => 1 - p / H;

const traces = [];
const layout = {
  width: W, height: H, margin: { l: 0, r: 0, t: 0, b: 0 },
  paper_bgcolor: '#fff', plot_bgcolor: '#fff', showlegend: false,
  font: { family: 'Liberation Sans, Arial, sans-serif', color: '#000' },
  annotations: [],
};

let n = 0;
STARS.forEach(star => {
  const col = COLS[star.col];
  ['P', 'T'].forEach((kind, k) => {
    n += 1;
    const d = star[kind];
    const rowPx = ROWS[star.block * 2 + k];
    const base = n, over = n + 12;   // base y carries the spectrum, overlay y the data

    layout[axName('x', base)] = {
      domain: [px2x(col.left), px2x(col.right)], anchor: axRef('y', base),
      range: [370, 940], tick0: 0, dtick: 100, ticks: 'inside', ticklen: 9, tickwidth: 1.2, tickcolor: '#000',
      mirror: 'allticks', showline: true, linecolor: '#000', linewidth: 1.5,
      showgrid: true, gridcolor: GRID, gridwidth: 1, zeroline: false,
      showticklabels: kind === 'T', tickfont: TICKFONT, fixedrange: true,
      minor: { dtick: 20, tick0: 0, ticks: 'inside', ticklen: 5, tickwidth: 1, tickcolor: '#000', showgrid: false },
    };
    layout[axName('y', base)] = {
      domain: [px2y(rowPx[1]), px2y(rowPx[0])], anchor: axRef('x', base),
      range: star.P.range, visible: false, fixedrange: true,
    };
    layout[axName('y', over)] = {
      overlaying: axRef('y', base), anchor: axRef('x', base), side: 'left',
      range: d.range, tick0: 0, dtick: d.dtick, ticks: 'inside', ticklen: 9, tickwidth: 1.2, tickcolor: '#000',
      mirror: 'allticks', showline: true, linecolor: '#000', linewidth: 1.5,
      showgrid: true, gridcolor: GRID, gridwidth: 1, zeroline: false,
      tickfont: TICKFONT, fixedrange: true,
      minor: { dtick: d.minor, tick0: 0, ticks: 'inside', ticklen: 5, tickwidth: 1, tickcolor: '#000', showgrid: false },
    };

    const xa = axRef('x', base), ya = axRef('y', over);
    traces.push({ x: star.wl, y: star.spec, xaxis: xa, yaxis: axRef('y', base), mode: 'lines',
      line: { color: GREEN, width: 1 }, hoverinfo: 'skip' });
    const thin = kind === 'P';
    traces.push({ x: RED_WL, y: d.red, xaxis: xa, yaxis: ya, mode: 'lines+markers',
      line: { color: RED, width: thin ? 0.9 : 1.6 },
      marker: { symbol: 'circle-open', size: 8, color: RED, line: { width: thin ? 1 : 1.6 } },
      error_y: { type: 'data', array: d.redErr, color: RED, thickness: thin ? 1 : 1.2, width: 3 } });
    traces.push({ x: BLUE_WL, y: d.blue, xaxis: xa, yaxis: ya, mode: 'lines+markers',
      line: { color: BLUE, width: 1.6 },
      marker: { symbol: 'circle-open', size: 8, color: BLUE, line: { width: 1.6 } },
      error_y: { type: 'data', array: d.blueErr, color: BLUE, thickness: 1.2, width: 3 } });
    traces.push({ x: d.fitWl, y: d.fit, xaxis: xa, yaxis: ya, mode: 'lines',
      line: { color: '#000', width: 1.6, shape: 'spline' } });

    const midY = (rowPx[0] + rowPx[1]) / 2;
    layout.annotations.push({
      xref: 'paper', yref: 'paper', x: px2x(col.ylabX), y: px2y(midY), showarrow: false,
      xanchor: 'center', yanchor: 'middle', textangle: -90,
      text: kind === 'P' ? '<i>P</i>\u00a0\u00a0(%)' : '<i>θ</i><sup>E</sup>\u00a0(DEG)',
      font: { family: SERIF, size: 18, color: '#000' },
    });
    if (kind === 'T') {
      const [ly, anchor] = XLAB[star.block];
      layout.annotations.push({
        xref: 'paper', yref: 'paper', x: px2x((col.left + col.right) / 2), y: px2y(ly),
        showarrow: false, xanchor: 'center', yanchor: anchor, borderpad: 0, text: 'WAVELENGTH (nm)',
        font: { family: SERIF, size: 16, color: '#000' },
      });
    }
  });
  layout.annotations.push({
    xref: 'paper', yref: 'paper', x: px2x((col.left + col.right) / 2), y: px2y(TITLE_Y[star.block]),
    showarrow: false, xanchor: 'center', yanchor: 'middle',
    text: star.name + '\u00a0\u00a0\u00a0\u00a0\u00a0' + star.date,
    font: { family: SERIF, size: 21, color: '#1a1aff' },
  });
});

Plotly.newPlot('chart', traces, layout, { staticPlot: true, displayModeBar: false });
</script>
</body>
</html>
